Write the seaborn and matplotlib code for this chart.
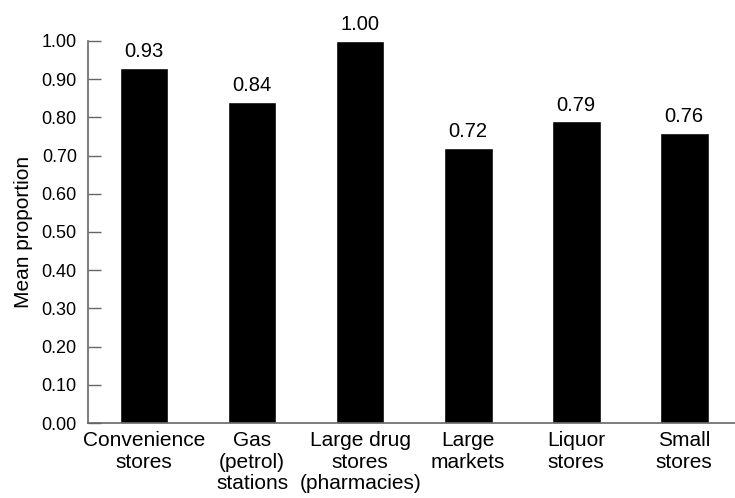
import seaborn as sns
import matplotlib
matplotlib.use("Agg")
import matplotlib.pyplot as plt
import pandas as pd

categories = ["Convenience\nstores", "Gas\n(petrol)\nstations", "Large drug\nstores\n(pharmacies)",
              "Large\nmarkets", "Liquor\nstores", "Small\nstores"]
mean_proportion = [0.93, 0.84, 1.00, 0.72, 0.79, 0.76]
y_ticks = [0.0, 0.1, 0.2, 0.3, 0.4, 0.5, 0.6, 0.7, 0.8, 0.9, 1.0]

sns.set_style("white")
plt.rcParams['font.family'] = ['Liberation Sans', 'DejaVu Sans']
plt.rcParams['text.color'] = 'black'
plt.rcParams['xtick.color'] = 'black'
plt.rcParams['ytick.color'] = 'black'
plt.rcParams['axes.labelcolor'] = 'black'

df = pd.DataFrame({"store": categories, "value": mean_proportion})

fig = plt.figure(figsize=(7.35, 4.98), dpi=100)
ax = fig.add_axes([0.1197, 0.1506, 0.8803, 0.7671])
sns.barplot(data=df, x="store", y="value", color="black", width=0.45,
            saturation=1, ax=ax)

for i, v in enumerate(mean_proportion):
    ax.text(i, v + 0.028, f"{v:.2f}", ha="center", va="baseline", fontsize=14.5, clip_on=False)

ax.set_xlim(-0.52, 5.47)
ax.set_ylim(0, 1.0)
ax.set_yticks(y_ticks)
ax.set_yticklabels([f"{t:.2f}" for t in y_ticks], fontsize=13)
ax.tick_params(axis="y", direction="in", length=9, width=1, color="#666666", left=True, pad=8)
ax.tick_params(axis="x", length=0, pad=6)
for lab in ax.get_xticklabels():
    lab.set_fontsize(15)
    lab.set_linespacing(1.15)
ax.set_xlabel("")
ax.set_ylabel("Mean proportion", fontsize=15, labelpad=6)

sns.despine(ax=ax, top=True, right=True)
for side in ["left", "bottom"]:
    ax.spines[side].set_color("#666666")
    ax.spines[side].set_linewidth(1.2)

fig.savefig("out.png", dpi=100)
